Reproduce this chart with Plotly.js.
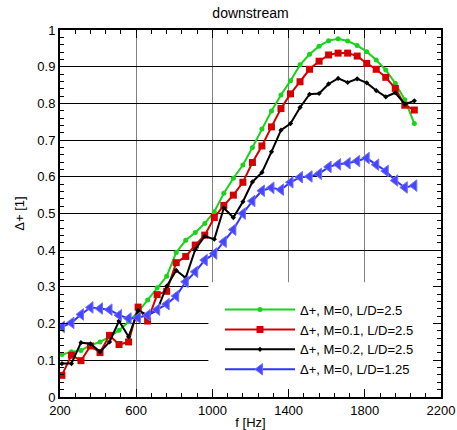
<!DOCTYPE html>
<html>
<head>
<meta charset="utf-8">
<script src="https://cdn.plot.ly/plotly-3.0.1.min.js"></script>
<style>html,body{margin:0;padding:0;background:#fff;}#chart{width:457px;height:430px;}</style>
</head>
<body>
<div id="chart"></div>
<script>
const freq = [210,260,310,360,410,460,510,560,610,660,710,760,810,860,910,960,1010,1060,1110,1160,1210,1260,1310,1360,1410,1460,1510,1560,1610,1660,1710,1760,1810,1860,1910,1960,2010,2060];
const seriesNames = ["\u0394+, M=0, L/D=2.5", "\u0394+, M=0.1, L/D=2.5", "\u0394+, M=0.2, L/D=2.5", "\u0394+, M=0, L/D=1.25"];
const m0_ld25 = [0.116,0.123,0.127,0.141,0.150,0.164,0.182,0.205,0.232,0.264,0.298,0.329,0.394,0.427,0.448,0.473,0.505,0.555,0.596,0.632,0.680,0.730,0.779,0.823,0.862,0.905,0.934,0.956,0.971,0.976,0.970,0.958,0.941,0.918,0.891,0.855,0.810,0.745];
const m01_ld25 = [0.059,0.114,0.099,0.139,0.121,0.168,0.143,0.150,0.245,0.207,0.279,0.288,0.366,0.383,0.414,0.441,0.489,0.522,0.550,0.585,0.639,0.684,0.736,0.786,0.826,0.859,0.893,0.915,0.932,0.937,0.937,0.929,0.909,0.893,0.871,0.841,0.795,0.782];
const m02_ld25 = [0.091,0.091,0.148,0.145,0.123,0.150,0.207,0.164,0.236,0.223,0.236,0.302,0.345,0.325,0.402,0.438,0.430,0.515,0.489,0.532,0.586,0.612,0.668,0.727,0.745,0.789,0.825,0.827,0.853,0.868,0.857,0.867,0.856,0.835,0.818,0.829,0.798,0.807];
const m0_ld125 = [0.191,0.202,0.225,0.244,0.241,0.238,0.223,0.214,0.216,0.223,0.238,0.253,0.275,0.314,0.341,0.373,0.391,0.423,0.456,0.500,0.534,0.562,0.570,0.565,0.585,0.599,0.601,0.608,0.627,0.634,0.637,0.643,0.651,0.633,0.616,0.590,0.571,0.576];
const xTickVals = [200,600,1000,1400,1800,2200];
const yTickVals = [0,0.1,0.2,0.3,0.4,0.5,0.6,0.7,0.8,0.9,1];
const yTickText = ["0","0.1","0.2","0.3","0.4","0.5","0.6","0.7","0.8","0.9","1"];

const FONT = "Liberation Sans, Arial, Helvetica, sans-serif";
const traces = [
  {x: freq, y: m0_ld25, name: seriesNames[0], mode: "lines+markers",
   line: {color: "#18d418", width: 2}, marker: {symbol: "circle", size: 5, color: "#18d418"}},
  {x: freq, y: m01_ld25, name: seriesNames[1], mode: "lines+markers",
   line: {color: "#d40000", width: 2}, marker: {symbol: "square", size: 7, color: "#d40000"}},
  {x: freq, y: m02_ld25, name: seriesNames[2], mode: "lines+markers",
   line: {color: "#000000", width: 2}, marker: {symbol: "diamond", size: 4, color: "#000000"}},
  {x: freq, y: m0_ld125, name: seriesNames[3], mode: "lines+markers",
   line: {color: "#3333ff", width: 2}, marker: {symbol: "triangle-left", size: 10, color: "#4646ff", line: {color: "#7070ff", width: 1}}}
];

const layout = {
  width: 457, height: 430,
  margin: {l: 60, r: 16, t: 30, b: 33},
  paper_bgcolor: "#fff", plot_bgcolor: "#fff",
  font: {family: FONT, size: 13, color: "#000"},
  title: {text: "downstream", font: {family: FONT, size: 14, color: "#000"}, x: 0.5, xref: "paper", y: 0.969, yref: "container", yanchor: "middle"},
  showlegend: true,
  legend: {x: 0.42, y: 0.279, xanchor: "left", yanchor: "top", bgcolor: "rgba(0,0,0,0)", borderwidth: 0,
           font: {family: FONT, size: 13, color: "#000"}, itemwidth: 70, tracegroupgap: 0},
  xaxis: {range: [200, 2200], tickmode: "array", tickvals: xTickVals, ticktext: xTickVals.map(String),
          ticks: "inside", ticklen: 8, tickwidth: 1, tickcolor: "#000",
          minor: {dtick: 80, tick0: 200, ticks: "inside", ticklen: 4, tickcolor: "#000", showgrid: false},
          showline: true, linecolor: "#000", linewidth: 2, mirror: "ticks",
          showgrid: true, gridcolor: "#808080", gridwidth: 1, zeroline: false,
          tickfont: {family: FONT, size: 13, color: "#000"},
          title: {text: "f [Hz]", font: {family: FONT, size: 13, color: "#000"}, standoff: 1}},
  yaxis: {range: [0, 1], tickmode: "array", tickvals: yTickVals, ticktext: yTickText,
          ticks: "inside", ticklen: 8, tickwidth: 1, tickcolor: "#000",
          minor: {dtick: 0.02, tick0: 0, ticks: "inside", ticklen: 4, tickcolor: "#000", showgrid: false},
          showline: true, linecolor: "#000", linewidth: 2, mirror: "ticks",
          showgrid: true, gridcolor: "#000", gridwidth: 1, zeroline: false,
          tickfont: {family: FONT, size: 13, color: "#000"},
          title: {text: "\u0394+ [1]", font: {family: FONT, size: 13, color: "#000"}, standoff: 10}},
  shapes: [{type: "rect", xref: "x", yref: "y", x0: 979, x1: 2200, y0: 0, y1: 0.313,
            fillcolor: "#fff", line: {width: 0}, layer: "between"}]
};

Plotly.newPlot("chart", traces, layout, {staticPlot: true, displayModeBar: false});
</script>
</body>
</html>
